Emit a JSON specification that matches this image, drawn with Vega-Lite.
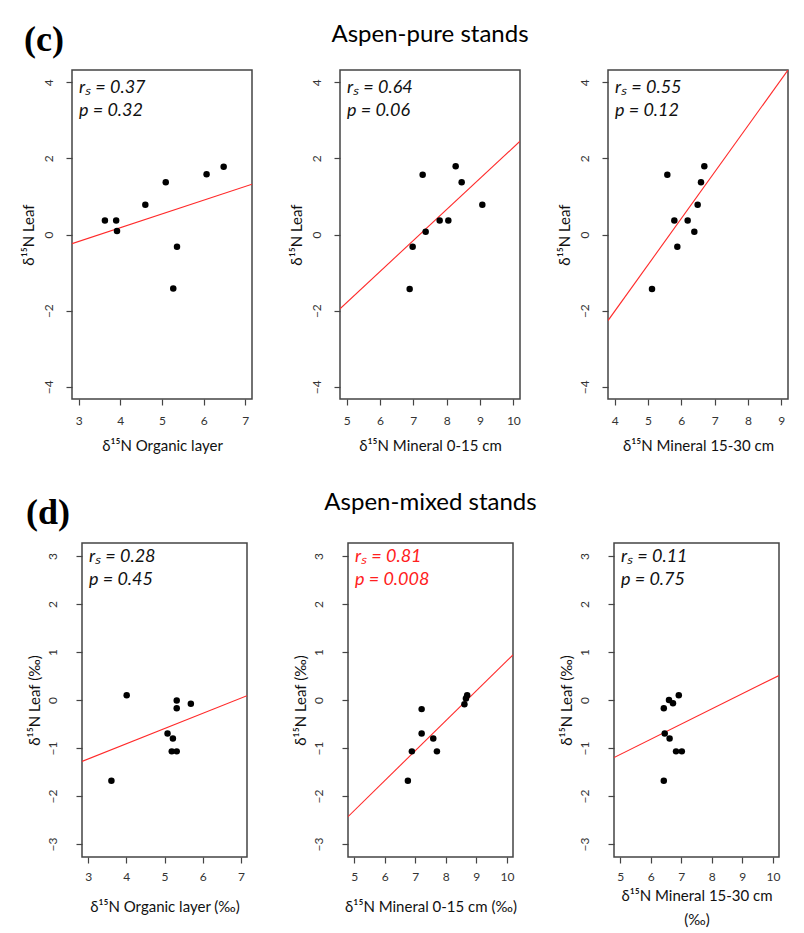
{
  "$schema": "https://vega.github.io/schema/vega-lite/v6.json",
  "background": "white",
  "padding": {"left": 20, "top": 21, "right": 0, "bottom": 0},
  "datasets": {
    "points": [
      {"panel": "c1", "x": 3.63, "y": 0.37}, {"panel": "c1", "x": 3.9, "y": 0.37}, {"panel": "c1", "x": 3.92, "y": 0.09},
      {"panel": "c1", "x": 4.6, "y": 0.78}, {"panel": "c1", "x": 5.09, "y": 1.37}, {"panel": "c1", "x": 6.07, "y": 1.58},
      {"panel": "c1", "x": 6.48, "y": 1.78}, {"panel": "c1", "x": 5.36, "y": -0.32}, {"panel": "c1", "x": 5.27, "y": -1.42},
      {"panel": "c2", "x": 7.28, "y": 1.57}, {"panel": "c2", "x": 8.27, "y": 1.79}, {"panel": "c2", "x": 8.45, "y": 1.37},
      {"panel": "c2", "x": 9.07, "y": 0.78}, {"panel": "c2", "x": 7.79, "y": 0.37}, {"panel": "c2", "x": 8.05, "y": 0.37},
      {"panel": "c2", "x": 7.37, "y": 0.07}, {"panel": "c2", "x": 6.98, "y": -0.32}, {"panel": "c2", "x": 6.89, "y": -1.43},
      {"panel": "c3", "x": 5.58, "y": 1.57}, {"panel": "c3", "x": 6.69, "y": 1.79}, {"panel": "c3", "x": 6.59, "y": 1.37},
      {"panel": "c3", "x": 6.49, "y": 0.78}, {"panel": "c3", "x": 5.79, "y": 0.37}, {"panel": "c3", "x": 6.19, "y": 0.37},
      {"panel": "c3", "x": 6.39, "y": 0.07}, {"panel": "c3", "x": 5.88, "y": -0.32}, {"panel": "c3", "x": 5.12, "y": -1.43},
      {"panel": "d1", "x": 4.01, "y": 0.1}, {"panel": "d1", "x": 5.32, "y": -0.01}, {"panel": "d1", "x": 5.32, "y": -0.17},
      {"panel": "d1", "x": 5.69, "y": -0.08}, {"panel": "d1", "x": 5.08, "y": -0.7}, {"panel": "d1", "x": 5.22, "y": -0.8},
      {"panel": "d1", "x": 5.19, "y": -1.07}, {"panel": "d1", "x": 5.32, "y": -1.07}, {"panel": "d1", "x": 3.61, "y": -1.68},
      {"panel": "d2", "x": 7.21, "y": -0.19}, {"panel": "d2", "x": 7.21, "y": -0.7}, {"panel": "d2", "x": 7.59, "y": -0.8},
      {"panel": "d2", "x": 8.7, "y": 0.1}, {"panel": "d2", "x": 8.66, "y": 0.03}, {"panel": "d2", "x": 8.61, "y": -0.09},
      {"panel": "d2", "x": 6.89, "y": -1.07}, {"panel": "d2", "x": 7.71, "y": -1.07}, {"panel": "d2", "x": 6.76, "y": -1.68},
      {"panel": "d3", "x": 6.43, "y": -0.17}, {"panel": "d3", "x": 6.6, "y": 0.0}, {"panel": "d3", "x": 6.73, "y": -0.07},
      {"panel": "d3", "x": 6.92, "y": 0.1}, {"panel": "d3", "x": 6.46, "y": -0.7}, {"panel": "d3", "x": 6.62, "y": -0.8},
      {"panel": "d3", "x": 6.83, "y": -1.07}, {"panel": "d3", "x": 7.02, "y": -1.07}, {"panel": "d3", "x": 6.43, "y": -1.68}
    ],
    "fits": [
      {"panel": "c1", "x": 2.84, "y": -0.24}, {"panel": "c1", "x": 7.16, "y": 1.32},
      {"panel": "c2", "x": 4.8, "y": -1.95}, {"panel": "c2", "x": 10.2, "y": 2.45},
      {"panel": "c3", "x": 3.8, "y": -2.26}, {"panel": "c3", "x": 9.2, "y": 4.32},
      {"panel": "d1", "x": 2.84, "y": -1.28}, {"panel": "d1", "x": 7.16, "y": 0.09},
      {"panel": "d2", "x": 4.8, "y": -2.43}, {"panel": "d2", "x": 10.2, "y": 0.94},
      {"panel": "d3", "x": 4.8, "y": -1.2}, {"panel": "d3", "x": 10.2, "y": 0.51}
    ],
    "notes": [
      {"panel": "c1", "r": "rₛ = 0.37", "p": "p = 0.32"},
      {"panel": "c2", "r": "rₛ = 0.64", "p": "p = 0.06"},
      {"panel": "c3", "r": "rₛ = 0.55", "p": "p = 0.12"},
      {"panel": "d1", "r": "rₛ = 0.28", "p": "p = 0.45"},
      {"panel": "d2", "r": "rₛ = 0.81", "p": "p = 0.008"},
      {"panel": "d3", "r": "rₛ = 0.11", "p": "p = 0.75"}
    ]
  },
  "config": {
    "view": {"stroke": "#444", "strokeWidth": 1.5},
    "axis": {
      "domain": false, "grid": false, "ticks": true, "tickSize": 6, "tickColor": "#444", "tickWidth": 1.2,
      "labelColor": "#333", "labelFont": "Lato", "labelFontSize": 12, "labelFlush": false, "labelOverlap": false,
      "titleFont": "Lato", "titleFontSize": 15, "titleFontWeight": "normal", "titleColor": "#111"
    },
    "axisY": {"labelAngle": -90, "labelBaseline": "bottom", "labelAlign": "center"},
    "text": {"font": "Lato", "fontStyle": "italic", "fontSize": 18, "align": "left", "baseline": "alphabetic"}
  },
  "concat": [
    {
      "hconcat": [
        {
          "width": 180, "height": 329,
          "title": {"text": "(c)", "anchor": "start", "frame": "group", "font": "Liberation Serif", "fontSize": 36, "fontWeight": "bold", "color": "#000", "dx": -48, "offset": -17, "baseline": "alphabetic"},
          "layer": [
            {"data": {"name": "fits"}, "transform": [{"filter": "datum.panel === 'c1'"}], "mark": {"type": "line", "color": "#ff2a2a", "strokeWidth": 1.1, "clip": true},
             "encoding": {
               "x": {"field": "x", "type": "quantitative", "scale": {"domain": [2.84, 7.16], "nice": false, "zero": false}, "axis": {"values": [3, 4, 5, 6, 7], "title": "δ¹⁵N Organic layer", "labelPadding": 10, "titlePadding": 12}},
               "y": {"field": "y", "type": "quantitative", "scale": {"domain": [-4.32, 4.32], "nice": false, "zero": false}, "axis": {"values": [-4, -2, 0, 2, 4], "title": "δ¹⁵N Leaf", "labelPadding": 11, "titlePadding": 6}}}},
            {"data": {"name": "points"}, "transform": [{"filter": "datum.panel === 'c1'"}], "mark": {"type": "circle", "size": 42, "color": "#000", "opacity": 1},
             "encoding": {
               "x": {"field": "x", "type": "quantitative", "scale": {"domain": [2.84, 7.16], "nice": false, "zero": false}, "axis": {"values": [3, 4, 5, 6, 7], "title": "δ¹⁵N Organic layer", "labelPadding": 10, "titlePadding": 12}},
               "y": {"field": "y", "type": "quantitative", "scale": {"domain": [-4.32, 4.32], "nice": false, "zero": false}, "axis": {"values": [-4, -2, 0, 2, 4], "title": "δ¹⁵N Leaf", "labelPadding": 11, "titlePadding": 6}}}},
            {"data": {"name": "notes"}, "transform": [{"filter": "datum.panel === 'c1'"}], "mark": {"type": "text", "dx": 7, "dy": 23, "color": "#111"},
             "encoding": {
               "x": {"datum": 2.84, "type": "quantitative", "scale": {"domain": [2.84, 7.16], "nice": false, "zero": false}, "axis": {"values": [3, 4, 5, 6, 7], "title": "δ¹⁵N Organic layer", "labelPadding": 10, "titlePadding": 12}},
               "y": {"datum": 4.32, "type": "quantitative", "scale": {"domain": [-4.32, 4.32], "nice": false, "zero": false}, "axis": {"values": [-4, -2, 0, 2, 4], "title": "δ¹⁵N Leaf", "labelPadding": 11, "titlePadding": 6}},
               "text": {"field": "r"}}},
            {"data": {"name": "notes"}, "transform": [{"filter": "datum.panel === 'c1'"}], "mark": {"type": "text", "dx": 7, "dy": 46, "color": "#111"},
             "encoding": {
               "x": {"datum": 2.84, "type": "quantitative", "scale": {"domain": [2.84, 7.16], "nice": false, "zero": false}, "axis": {"values": [3, 4, 5, 6, 7], "title": "δ¹⁵N Organic layer", "labelPadding": 10, "titlePadding": 12}},
               "y": {"datum": 4.32, "type": "quantitative", "scale": {"domain": [-4.32, 4.32], "nice": false, "zero": false}, "axis": {"values": [-4, -2, 0, 2, 4], "title": "δ¹⁵N Leaf", "labelPadding": 11, "titlePadding": 6}},
               "text": {"field": "p"}}}
          ]
        },
        {
          "width": 180, "height": 329,
          "title": {"text": "Aspen-pure stands", "anchor": "middle", "frame": "group", "font": "Lato", "fontSize": 24, "fontWeight": "normal", "color": "#000", "offset": 4, "baseline": "alphabetic"},
          "layer": [
            {"data": {"name": "fits"}, "transform": [{"filter": "datum.panel === 'c2'"}], "mark": {"type": "line", "color": "#ff2a2a", "strokeWidth": 1.1, "clip": true},
             "encoding": {
               "x": {"field": "x", "type": "quantitative", "scale": {"domain": [4.8, 10.2], "nice": false, "zero": false}, "axis": {"values": [5, 6, 7, 8, 9, 10], "title": "δ¹⁵N Mineral 0-15 cm", "labelPadding": 10, "titlePadding": 12}},
               "y": {"field": "y", "type": "quantitative", "scale": {"domain": [-4.32, 4.32], "nice": false, "zero": false}, "axis": {"values": [-4, -2, 0, 2, 4], "title": "δ¹⁵N Leaf", "labelPadding": 11, "titlePadding": 6}}}},
            {"data": {"name": "points"}, "transform": [{"filter": "datum.panel === 'c2'"}], "mark": {"type": "circle", "size": 42, "color": "#000", "opacity": 1},
             "encoding": {
               "x": {"field": "x", "type": "quantitative", "scale": {"domain": [4.8, 10.2], "nice": false, "zero": false}, "axis": {"values": [5, 6, 7, 8, 9, 10], "title": "δ¹⁵N Mineral 0-15 cm", "labelPadding": 10, "titlePadding": 12}},
               "y": {"field": "y", "type": "quantitative", "scale": {"domain": [-4.32, 4.32], "nice": false, "zero": false}, "axis": {"values": [-4, -2, 0, 2, 4], "title": "δ¹⁵N Leaf", "labelPadding": 11, "titlePadding": 6}}}},
            {"data": {"name": "notes"}, "transform": [{"filter": "datum.panel === 'c2'"}], "mark": {"type": "text", "dx": 7, "dy": 23, "color": "#111"},
             "encoding": {
               "x": {"datum": 4.8, "type": "quantitative", "scale": {"domain": [4.8, 10.2], "nice": false, "zero": false}, "axis": {"values": [5, 6, 7, 8, 9, 10], "title": "δ¹⁵N Mineral 0-15 cm", "labelPadding": 10, "titlePadding": 12}},
               "y": {"datum": 4.32, "type": "quantitative", "scale": {"domain": [-4.32, 4.32], "nice": false, "zero": false}, "axis": {"values": [-4, -2, 0, 2, 4], "title": "δ¹⁵N Leaf", "labelPadding": 11, "titlePadding": 6}},
               "text": {"field": "r"}}},
            {"data": {"name": "notes"}, "transform": [{"filter": "datum.panel === 'c2'"}], "mark": {"type": "text", "dx": 7, "dy": 46, "color": "#111"},
             "encoding": {
               "x": {"datum": 4.8, "type": "quantitative", "scale": {"domain": [4.8, 10.2], "nice": false, "zero": false}, "axis": {"values": [5, 6, 7, 8, 9, 10], "title": "δ¹⁵N Mineral 0-15 cm", "labelPadding": 10, "titlePadding": 12}},
               "y": {"datum": 4.32, "type": "quantitative", "scale": {"domain": [-4.32, 4.32], "nice": false, "zero": false}, "axis": {"values": [-4, -2, 0, 2, 4], "title": "δ¹⁵N Leaf", "labelPadding": 11, "titlePadding": 6}},
               "text": {"field": "p"}}}
          ]
        },
        {
          "width": 180, "height": 329,
          "layer": [
            {"data": {"name": "fits"}, "transform": [{"filter": "datum.panel === 'c3'"}], "mark": {"type": "line", "color": "#ff2a2a", "strokeWidth": 1.1, "clip": true},
             "encoding": {
               "x": {"field": "x", "type": "quantitative", "scale": {"domain": [3.8, 9.2], "nice": false, "zero": false}, "axis": {"values": [4, 5, 6, 7, 8, 9], "title": "δ¹⁵N Mineral 15-30 cm", "labelPadding": 10, "titlePadding": 12}},
               "y": {"field": "y", "type": "quantitative", "scale": {"domain": [-4.32, 4.32], "nice": false, "zero": false}, "axis": {"values": [-4, -2, 0, 2, 4], "title": "δ¹⁵N Leaf", "labelPadding": 11, "titlePadding": 6}}}},
            {"data": {"name": "points"}, "transform": [{"filter": "datum.panel === 'c3'"}], "mark": {"type": "circle", "size": 42, "color": "#000", "opacity": 1},
             "encoding": {
               "x": {"field": "x", "type": "quantitative", "scale": {"domain": [3.8, 9.2], "nice": false, "zero": false}, "axis": {"values": [4, 5, 6, 7, 8, 9], "title": "δ¹⁵N Mineral 15-30 cm", "labelPadding": 10, "titlePadding": 12}},
               "y": {"field": "y", "type": "quantitative", "scale": {"domain": [-4.32, 4.32], "nice": false, "zero": false}, "axis": {"values": [-4, -2, 0, 2, 4], "title": "δ¹⁵N Leaf", "labelPadding": 11, "titlePadding": 6}}}},
            {"data": {"name": "notes"}, "transform": [{"filter": "datum.panel === 'c3'"}], "mark": {"type": "text", "dx": 7, "dy": 23, "color": "#111"},
             "encoding": {
               "x": {"datum": 3.8, "type": "quantitative", "scale": {"domain": [3.8, 9.2], "nice": false, "zero": false}, "axis": {"values": [4, 5, 6, 7, 8, 9], "title": "δ¹⁵N Mineral 15-30 cm", "labelPadding": 10, "titlePadding": 12}},
               "y": {"datum": 4.32, "type": "quantitative", "scale": {"domain": [-4.32, 4.32], "nice": false, "zero": false}, "axis": {"values": [-4, -2, 0, 2, 4], "title": "δ¹⁵N Leaf", "labelPadding": 11, "titlePadding": 6}},
               "text": {"field": "r"}}},
            {"data": {"name": "notes"}, "transform": [{"filter": "datum.panel === 'c3'"}], "mark": {"type": "text", "dx": 7, "dy": 46, "color": "#111"},
             "encoding": {
               "x": {"datum": 3.8, "type": "quantitative", "scale": {"domain": [3.8, 9.2], "nice": false, "zero": false}, "axis": {"values": [4, 5, 6, 7, 8, 9], "title": "δ¹⁵N Mineral 15-30 cm", "labelPadding": 10, "titlePadding": 12}},
               "y": {"datum": 4.32, "type": "quantitative", "scale": {"domain": [-4.32, 4.32], "nice": false, "zero": false}, "axis": {"values": [-4, -2, 0, 2, 4], "title": "δ¹⁵N Leaf", "labelPadding": 11, "titlePadding": 6}},
               "text": {"field": "p"}}}
          ]
        }
      ],
      "spacing": 88,
      "bounds": "flush"
    },
    {
      "hconcat": [
        {"width": 1, "height": 1, "view": {"stroke": null}, "data": {"values": []}, "mark": "point", "encoding": {}},
        {
          "hconcat": [
            {
              "width": 165, "height": 314,
              "title": {"text": "(d)", "anchor": "start", "frame": "group", "font": "Liberation Serif", "fontSize": 36, "fontWeight": "bold", "color": "#000", "dx": -56, "offset": -17, "baseline": "alphabetic"},
              "layer": [
                {"data": {"name": "fits"}, "transform": [{"filter": "datum.panel === 'd1'"}], "mark": {"type": "line", "color": "#ff2a2a", "strokeWidth": 1.1, "clip": true},
                 "encoding": {
                   "x": {"field": "x", "type": "quantitative", "scale": {"domain": [2.84, 7.16], "nice": false, "zero": false}, "axis": {"values": [3, 4, 5, 6, 7], "title": "δ¹⁵N Organic layer (‰)", "labelPadding": 8, "titlePadding": 17}},
                   "y": {"field": "y", "type": "quantitative", "scale": {"domain": [-3.27, 3.27], "nice": false, "zero": false}, "axis": {"values": [-3, -2, -1, 0, 1, 2, 3], "title": "δ¹⁵N Leaf (‰)", "labelPadding": 17, "titlePadding": 4}}}},
                {"data": {"name": "points"}, "transform": [{"filter": "datum.panel === 'd1'"}], "mark": {"type": "circle", "size": 42, "color": "#000", "opacity": 1},
                 "encoding": {
                   "x": {"field": "x", "type": "quantitative", "scale": {"domain": [2.84, 7.16], "nice": false, "zero": false}, "axis": {"values": [3, 4, 5, 6, 7], "title": "δ¹⁵N Organic layer (‰)", "labelPadding": 8, "titlePadding": 17}},
                   "y": {"field": "y", "type": "quantitative", "scale": {"domain": [-3.27, 3.27], "nice": false, "zero": false}, "axis": {"values": [-3, -2, -1, 0, 1, 2, 3], "title": "δ¹⁵N Leaf (‰)", "labelPadding": 17, "titlePadding": 4}}}},
                {"data": {"name": "notes"}, "transform": [{"filter": "datum.panel === 'd1'"}], "mark": {"type": "text", "dx": 7, "dy": 19, "color": "#111"},
                 "encoding": {
                   "x": {"datum": 2.84, "type": "quantitative", "scale": {"domain": [2.84, 7.16], "nice": false, "zero": false}, "axis": {"values": [3, 4, 5, 6, 7], "title": "δ¹⁵N Organic layer (‰)", "labelPadding": 8, "titlePadding": 17}},
                   "y": {"datum": 3.27, "type": "quantitative", "scale": {"domain": [-3.27, 3.27], "nice": false, "zero": false}, "axis": {"values": [-3, -2, -1, 0, 1, 2, 3], "title": "δ¹⁵N Leaf (‰)", "labelPadding": 17, "titlePadding": 4}},
                   "text": {"field": "r"}}},
                {"data": {"name": "notes"}, "transform": [{"filter": "datum.panel === 'd1'"}], "mark": {"type": "text", "dx": 7, "dy": 42, "color": "#111"},
                 "encoding": {
                   "x": {"datum": 2.84, "type": "quantitative", "scale": {"domain": [2.84, 7.16], "nice": false, "zero": false}, "axis": {"values": [3, 4, 5, 6, 7], "title": "δ¹⁵N Organic layer (‰)", "labelPadding": 8, "titlePadding": 17}},
                   "y": {"datum": 3.27, "type": "quantitative", "scale": {"domain": [-3.27, 3.27], "nice": false, "zero": false}, "axis": {"values": [-3, -2, -1, 0, 1, 2, 3], "title": "δ¹⁵N Leaf (‰)", "labelPadding": 17, "titlePadding": 4}},
                   "text": {"field": "p"}}}
              ]
            },
            {
              "width": 165, "height": 314,
              "title": {"text": "Aspen-mixed stands", "anchor": "middle", "frame": "group", "font": "Lato", "fontSize": 24, "fontWeight": "normal", "color": "#000", "offset": 9, "baseline": "alphabetic"},
              "layer": [
                {"data": {"name": "fits"}, "transform": [{"filter": "datum.panel === 'd2'"}], "mark": {"type": "line", "color": "#ff2a2a", "strokeWidth": 1.1, "clip": true},
                 "encoding": {
                   "x": {"field": "x", "type": "quantitative", "scale": {"domain": [4.8, 10.2], "nice": false, "zero": false}, "axis": {"values": [5, 6, 7, 8, 9, 10], "title": "δ¹⁵N Mineral 0-15 cm (‰)", "labelPadding": 8, "titlePadding": 17}},
                   "y": {"field": "y", "type": "quantitative", "scale": {"domain": [-3.27, 3.27], "nice": false, "zero": false}, "axis": {"values": [-3, -2, -1, 0, 1, 2, 3], "title": "δ¹⁵N Leaf (‰)", "labelPadding": 17, "titlePadding": 4}}}},
                {"data": {"name": "points"}, "transform": [{"filter": "datum.panel === 'd2'"}], "mark": {"type": "circle", "size": 42, "color": "#000", "opacity": 1},
                 "encoding": {
                   "x": {"field": "x", "type": "quantitative", "scale": {"domain": [4.8, 10.2], "nice": false, "zero": false}, "axis": {"values": [5, 6, 7, 8, 9, 10], "title": "δ¹⁵N Mineral 0-15 cm (‰)", "labelPadding": 8, "titlePadding": 17}},
                   "y": {"field": "y", "type": "quantitative", "scale": {"domain": [-3.27, 3.27], "nice": false, "zero": false}, "axis": {"values": [-3, -2, -1, 0, 1, 2, 3], "title": "δ¹⁵N Leaf (‰)", "labelPadding": 17, "titlePadding": 4}}}},
                {"data": {"name": "notes"}, "transform": [{"filter": "datum.panel === 'd2'"}], "mark": {"type": "text", "dx": 7, "dy": 19, "color": "#ff2020"},
                 "encoding": {
                   "x": {"datum": 4.8, "type": "quantitative", "scale": {"domain": [4.8, 10.2], "nice": false, "zero": false}, "axis": {"values": [5, 6, 7, 8, 9, 10], "title": "δ¹⁵N Mineral 0-15 cm (‰)", "labelPadding": 8, "titlePadding": 17}},
                   "y": {"datum": 3.27, "type": "quantitative", "scale": {"domain": [-3.27, 3.27], "nice": false, "zero": false}, "axis": {"values": [-3, -2, -1, 0, 1, 2, 3], "title": "δ¹⁵N Leaf (‰)", "labelPadding": 17, "titlePadding": 4}},
                   "text": {"field": "r"}}},
                {"data": {"name": "notes"}, "transform": [{"filter": "datum.panel === 'd2'"}], "mark": {"type": "text", "dx": 7, "dy": 42, "color": "#ff2020"},
                 "encoding": {
                   "x": {"datum": 4.8, "type": "quantitative", "scale": {"domain": [4.8, 10.2], "nice": false, "zero": false}, "axis": {"values": [5, 6, 7, 8, 9, 10], "title": "δ¹⁵N Mineral 0-15 cm (‰)", "labelPadding": 8, "titlePadding": 17}},
                   "y": {"datum": 3.27, "type": "quantitative", "scale": {"domain": [-3.27, 3.27], "nice": false, "zero": false}, "axis": {"values": [-3, -2, -1, 0, 1, 2, 3], "title": "δ¹⁵N Leaf (‰)", "labelPadding": 17, "titlePadding": 4}},
                   "text": {"field": "p"}}}
              ]
            },
            {
              "width": 165, "height": 314,
              "layer": [
                {"data": {"name": "fits"}, "transform": [{"filter": "datum.panel === 'd3'"}], "mark": {"type": "line", "color": "#ff2a2a", "strokeWidth": 1.1, "clip": true},
                 "encoding": {
                   "x": {"field": "x", "type": "quantitative", "scale": {"domain": [4.8, 10.2], "nice": false, "zero": false}, "axis": {"values": [5, 6, 7, 8, 9, 10], "title": ["δ¹⁵N Mineral 15-30 cm", "(‰)"], "titleLineHeight": 24, "labelPadding": 8, "titlePadding": 6}},
                   "y": {"field": "y", "type": "quantitative", "scale": {"domain": [-3.27, 3.27], "nice": false, "zero": false}, "axis": {"values": [-3, -2, -1, 0, 1, 2, 3], "title": "δ¹⁵N Leaf (‰)", "labelPadding": 17, "titlePadding": 4}}}},
                {"data": {"name": "points"}, "transform": [{"filter": "datum.panel === 'd3'"}], "mark": {"type": "circle", "size": 42, "color": "#000", "opacity": 1},
                 "encoding": {
                   "x": {"field": "x", "type": "quantitative", "scale": {"domain": [4.8, 10.2], "nice": false, "zero": false}, "axis": {"values": [5, 6, 7, 8, 9, 10], "title": ["δ¹⁵N Mineral 15-30 cm", "(‰)"], "titleLineHeight": 24, "labelPadding": 8, "titlePadding": 6}},
                   "y": {"field": "y", "type": "quantitative", "scale": {"domain": [-3.27, 3.27], "nice": false, "zero": false}, "axis": {"values": [-3, -2, -1, 0, 1, 2, 3], "title": "δ¹⁵N Leaf (‰)", "labelPadding": 17, "titlePadding": 4}}}},
                {"data": {"name": "notes"}, "transform": [{"filter": "datum.panel === 'd3'"}], "mark": {"type": "text", "dx": 7, "dy": 19, "color": "#111"},
                 "encoding": {
                   "x": {"datum": 4.8, "type": "quantitative", "scale": {"domain": [4.8, 10.2], "nice": false, "zero": false}, "axis": {"values": [5, 6, 7, 8, 9, 10], "title": ["δ¹⁵N Mineral 15-30 cm", "(‰)"], "titleLineHeight": 24, "labelPadding": 8, "titlePadding": 6}},
                   "y": {"datum": 3.27, "type": "quantitative", "scale": {"domain": [-3.27, 3.27], "nice": false, "zero": false}, "axis": {"values": [-3, -2, -1, 0, 1, 2, 3], "title": "δ¹⁵N Leaf (‰)", "labelPadding": 17, "titlePadding": 4}},
                   "text": {"field": "r"}}},
                {"data": {"name": "notes"}, "transform": [{"filter": "datum.panel === 'd3'"}], "mark": {"type": "text", "dx": 7, "dy": 42, "color": "#111"},
                 "encoding": {
                   "x": {"datum": 4.8, "type": "quantitative", "scale": {"domain": [4.8, 10.2], "nice": false, "zero": false}, "axis": {"values": [5, 6, 7, 8, 9, 10], "title": ["δ¹⁵N Mineral 15-30 cm", "(‰)"], "titleLineHeight": 24, "labelPadding": 8, "titlePadding": 6}},
                   "y": {"datum": 3.27, "type": "quantitative", "scale": {"domain": [-3.27, 3.27], "nice": false, "zero": false}, "axis": {"values": [-3, -2, -1, 0, 1, 2, 3], "title": "δ¹⁵N Leaf (‰)", "labelPadding": 17, "titlePadding": 4}},
                   "text": {"field": "p"}}}
              ]
            }
          ],
          "spacing": 101,
          "bounds": "flush"
        }
      ],
      "spacing": 9,
      "bounds": "flush"
    }
  ],
  "columns": 1,
  "align": "none",
  "spacing": 36
}
